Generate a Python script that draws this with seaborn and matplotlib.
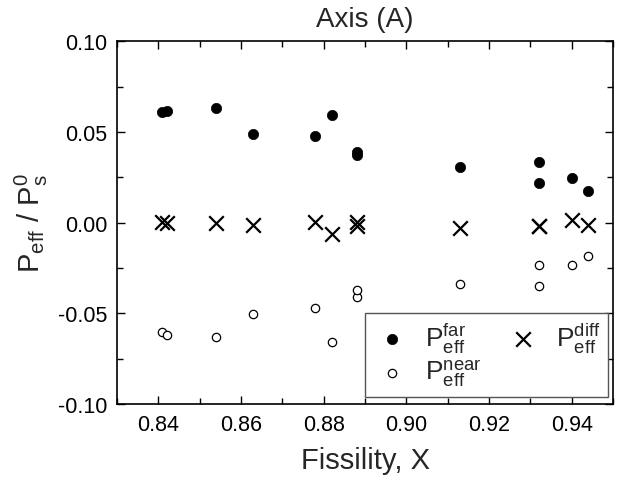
import matplotlib
matplotlib.use('Agg')
import matplotlib.pyplot as plt
import seaborn as sns
import pandas as pd
from matplotlib.ticker import MultipleLocator, FormatStrFormatter

# Data
fissility = [0.841, 0.842, 0.854, 0.863, 0.878, 0.882, 0.888, 0.888,
             0.913, 0.932, 0.932, 0.940, 0.944]
p_far = [0.0607, 0.0616, 0.0629, 0.0488, 0.0475, 0.0594, 0.0390, 0.0374,
         0.0304, 0.0332, 0.0216, 0.0247, 0.0174]
p_near = [-0.0602, -0.0620, -0.0632, -0.0506, -0.0473, -0.0658, -0.0412, -0.0370,
          -0.0337, -0.0350, -0.0234, -0.0234, -0.0186]
p_diff = [0.0005, 0.0000, -0.0003, -0.0016, 0.0002, -0.0064, -0.0020, 0.0004,
          -0.0030, -0.0018, -0.0018, 0.0013, -0.0012]

x_ticks = [0.84, 0.86, 0.88, 0.90, 0.92, 0.94]
y_ticks = [-0.10, -0.05, 0.00, 0.05, 0.10]

df = pd.DataFrame({"X": fissility, "far": p_far, "near": p_near, "diff": p_diff})

sns.set_theme(style="ticks")
plt.rcParams['font.family'] = ['Liberation Sans', 'DejaVu Sans']
plt.rcParams['mathtext.fontset'] = 'custom'
plt.rcParams['mathtext.rm'] = 'Liberation Sans'
plt.rcParams['mathtext.it'] = 'Liberation Sans:italic'

fig = plt.figure(figsize=(6.24, 4.85), dpi=100)
ax = fig.add_axes([0.1875, 0.165, 0.795, 0.748])

sns.scatterplot(data=df, x="X", y="far", ax=ax, marker='o', s=55, color='black',
                edgecolor='black', linewidth=0.5,
                label=r'$\mathregular{P_{eff}^{far}}$', zorder=3)
sns.scatterplot(data=df, x="X", y="near", ax=ax, marker='o', s=36, facecolor='white',
                edgecolor='black', linewidth=0.9,
                label=r'$\mathregular{P_{eff}^{near}}$', zorder=3)
sns.scatterplot(data=df, x="X", y="diff", ax=ax, marker='x', s=110, color='black',
                linewidth=1.6,
                label=r'$\mathregular{P_{eff}^{diff}}$', zorder=3)

ax.set_xlim(0.83, 0.95)
ax.set_ylim(-0.10, 0.10)
ax.set_xticks(x_ticks)
ax.set_yticks(y_ticks)
ax.xaxis.set_minor_locator(MultipleLocator(0.01))
ax.yaxis.set_minor_locator(MultipleLocator(0.025))
ax.xaxis.set_major_formatter(FormatStrFormatter('%.2f'))
ax.yaxis.set_major_formatter(FormatStrFormatter('%.2f'))

ax.tick_params(which='both', direction='in', top=True, right=True,
               width=1.0, colors='black', labelsize=15.5, pad=7)
ax.tick_params(which='major', length=6)
ax.tick_params(which='minor', length=4)
for sp in ax.spines.values():
    sp.set_linewidth(1.2)
    sp.set_color('black')

ax.set_xlabel('Fissility, X', fontsize=21, labelpad=8)
ax.set_ylabel(r'$\mathregular{P_{eff}\ /\ P_s^0}$', fontsize=21, labelpad=6)
ax.set_title('Axis (A)', fontsize=20, pad=11)

leg = ax.legend(loc='lower right', bbox_to_anchor=(0.99, 0.02), ncol=2,
                fontsize=19, frameon=True, fancybox=False, framealpha=1,
                edgecolor='#555555', borderpad=0.3, labelspacing=0.1,
                handletextpad=0.5, columnspacing=0.8, handlelength=1.5,
                borderaxespad=0)
leg.get_frame().set_linewidth(1.0)

fig.savefig('out.png', dpi=100)
